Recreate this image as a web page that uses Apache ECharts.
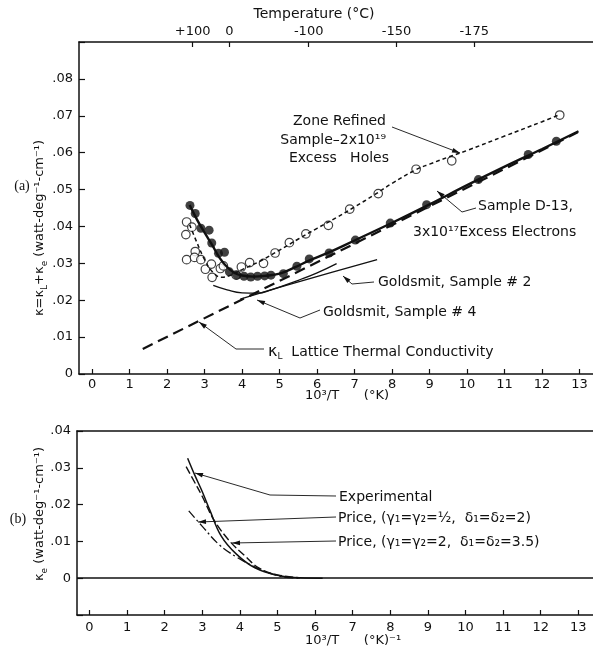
<!DOCTYPE html>
<html>
<head>
<meta charset="utf-8">
<script src="https://cdn.jsdelivr.net/npm/echarts@6/dist/echarts.min.js"></script>
<style>
  html, body { margin: 0; padding: 0; background: #fff; }
  #chart { width: 593px; height: 652px; }
</style>
</head>
<body>
<div id="chart"></div>
<script>
// ---- data ----
// x = 10^3/T (K^-1), y = thermal conductivity (watt/deg/cm)
var xTicks = [0, 1, 2, 3, 4, 5, 6, 7, 8, 9, 10, 11, 12, 13];
var tempLabels = ['+100', '0', '-100', '-150', '-175'];
var tempPositions = [2.680, 3.661, 5.775, 8.120, 10.188]; // 1000/(t+273.15)

// panel (a)
var zoneRefinedPts = [
  [2.52, 0.0412], [2.66, 0.0398], [2.50, 0.0378], [2.52, 0.0310], [2.75, 0.0332],
  [2.73, 0.0316], [2.90, 0.0310], [3.02, 0.0284], [3.18, 0.0298], [3.20, 0.0262],
  [3.42, 0.0286], [3.50, 0.0293], [3.84, 0.0268], [3.98, 0.0290], [4.20, 0.0302],
  [4.57, 0.0300], [4.88, 0.0328], [5.26, 0.0356], [5.70, 0.0380], [6.30, 0.0403],
  [6.87, 0.0447], [7.63, 0.0489], [8.64, 0.0555], [9.59, 0.0578], [12.47, 0.0702]
];
var zoneRefinedCurve = [
  [2.60, 0.0405], [2.80, 0.0355], [3.00, 0.0310], [3.20, 0.0278], [3.45, 0.0262],
  [3.70, 0.0268], [4.00, 0.0283], [4.50, 0.0307], [5.00, 0.0336], [5.50, 0.0366],
  [6.00, 0.0395], [6.50, 0.0423], [7.00, 0.0453], [7.50, 0.0484], [8.00, 0.0517],
  [8.64, 0.0554], [9.00, 0.0569], [9.50, 0.0588], [10.00, 0.0606], [11.00, 0.0645],
  [12.00, 0.0684], [12.46, 0.0703]
];
var d13Pts = [
  [2.61, 0.0457], [2.75, 0.0435], [2.90, 0.0395], [3.12, 0.0390], [3.19, 0.0355],
  [3.37, 0.0327], [3.53, 0.0330], [3.66, 0.0277], [3.86, 0.0268], [4.05, 0.0265],
  [4.23, 0.0263], [4.41, 0.0265], [4.60, 0.0266], [4.77, 0.0268], [5.10, 0.0272],
  [5.46, 0.0292], [5.79, 0.0312], [6.32, 0.0328], [7.02, 0.0363], [7.95, 0.0409],
  [8.92, 0.0459], [10.30, 0.0527], [11.63, 0.0595], [12.38, 0.0631]
];
var d13Curve = [
  [2.60, 0.0458], [2.80, 0.0418], [3.00, 0.0383], [3.20, 0.0350], [3.40, 0.0315],
  [3.60, 0.0290], [3.80, 0.0274], [4.00, 0.0267], [4.30, 0.0264], [4.60, 0.0266],
  [5.00, 0.0272], [5.40, 0.0289], [5.80, 0.0308], [6.30, 0.0329], [7.00, 0.0362],
  [8.00, 0.0410], [9.00, 0.0460], [10.00, 0.0512], [11.00, 0.0562], [12.00, 0.0610],
  [12.97, 0.0658]
];
var latticeLine = [[1.35, 0.0068], [4.00, 0.0202], [8.00, 0.0404], [12.95, 0.0655]];
var goldsmit4 = [
  [3.23, 0.0240], [3.60, 0.0228], [4.00, 0.0220], [4.40, 0.0219], [4.80, 0.0229],
  [5.50, 0.0254], [6.00, 0.0274], [6.52, 0.0299]
];
var goldsmit2 = [[3.95, 0.0203], [5.50, 0.0250], [7.60, 0.0310]];

// panel (b)
var experimental = [
  [2.61, 0.0326], [2.80, 0.0280], [3.00, 0.0235], [3.20, 0.0185], [3.50, 0.0115],
  [3.90, 0.0066], [4.40, 0.0028], [5.00, 0.0008], [5.60, 0.0001], [6.20, 0]
];
var price1 = [
  [2.57, 0.0303], [2.80, 0.0260], [3.00, 0.0222], [3.30, 0.0160], [3.70, 0.0104],
  [4.15, 0.0059], [4.50, 0.0028], [5.00, 0.0009], [5.60, 0.0001]
];
var price2 = [
  [2.64, 0.0183], [3.00, 0.0141], [3.45, 0.0091], [3.90, 0.0058], [4.35, 0.0033],
  [4.70, 0.0017], [5.13, 0.0004], [5.60, 0]
];

var FONT = 'DejaVu Sans';
var ink = '#111';

function yFmtA(v) {
  if (Math.abs(v) < 1e-9) return '0';
  if (v > 0.085) return '';
  return '.0' + Math.round(v * 100);
}
function yFmtB(v) {
  if (Math.abs(v) < 1e-9) return '0';
  if (v < 0) return '';
  return '.0' + Math.round(v * 100);
}

function bottomAxis(grid, min, max, margin) {
  return {
    type: 'value', gridIndex: grid, position: 'bottom', min: min, max: max,
    axisLine: { show: true, onZero: false, lineStyle: { color: ink, width: 1.5 } },
    axisTick: { show: true, inside: true, length: 5, customValues: xTicks, lineStyle: { color: ink, width: 1.2 } },
    axisLabel: { show: true, customValues: xTicks, margin: margin, color: ink, fontFamily: FONT, fontSize: 13 },
    splitLine: { show: false }
  };
}

// leader line with filled arrow head at the last point
function leader(pts) {
  var n = pts.length, a = pts[n - 2], b = pts[n - 1];
  var dx = b[0] - a[0], dy = b[1] - a[1], L = Math.sqrt(dx * dx + dy * dy);
  var ux = dx / L, uy = dy / L, hl = 8, hw = 2.4;
  var base = [b[0] - ux * hl, b[1] - uy * hl];
  return [
    { type: 'polyline', shape: { points: pts }, style: { stroke: ink, lineWidth: 0.9, fill: null } },
    { type: 'polygon', shape: { points: [b, [base[0] - uy * hw, base[1] + ux * hw], [base[0] + uy * hw, base[1] - ux * hw]] }, style: { fill: ink } }
  ];
}
function txt(x, y, s, extra) {
  var o = { type: 'text', x: x, y: y, style: { text: s, fontFamily: FONT, fontSize: 14, fill: ink, verticalAlign: 'middle' } };
  if (extra) for (var k in extra) o.style[k] = extra[k];
  return o;
}
var richSub = {
  t: { fontFamily: FONT, fontSize: 13, fill: ink, lineHeight: 18 },
  s: { fontFamily: FONT, fontSize: 9, fill: ink, lineHeight: 9, verticalAlign: 'bottom' }
};

var graphics = [
  txt(314, 14, 'Temperature (°C)', { align: 'center' }),
  txt(305, 396, '10³/T      (°K)', { fontSize: 13 }),
  txt(305, 641, '10³/T      (°K)⁻¹', { fontSize: 13 }),
  txt(22, 186, '(a)', { align: 'center', fontFamily: 'Liberation Serif' }),
  txt(18, 519, '(b)', { align: 'center', fontFamily: 'Liberation Serif' }),
  { type: 'text', x: 40, y: 228, rotation: Math.PI / 2,
    style: { text: '{t|κ=κ}{s|L}{t|+κ}{s|e}{t| (watt-deg⁻¹-cm⁻¹)}', rich: richSub, align: 'center', verticalAlign: 'middle' } },
  { type: 'text', x: 40, y: 514, rotation: Math.PI / 2,
    style: { text: '{t|κ}{s|e}{t| (watt-deg⁻¹-cm⁻¹)}', rich: richSub, align: 'center', verticalAlign: 'middle' } },
  // panel (a) notes
  txt(386, 121, 'Zone Refined', { align: 'right' }),
  txt(386, 140, 'Sample–2x10¹⁹', { align: 'right' }),
  txt(389, 158, 'Excess   Holes', { align: 'right' }),
  txt(478, 206, 'Sample D-13,'),
  txt(413, 232, '3x10¹⁷Excess Electrons'),
  txt(378, 282, 'Goldsmit, Sample # 2'),
  txt(323, 312, 'Goldsmit, Sample # 4'),
  { type: 'text', x: 268, y: 352,
    style: { text: '{k|κ}{s|L}{t|  Lattice Thermal Conductivity}', verticalAlign: 'middle',
      rich: { k: { fontFamily: FONT, fontSize: 16, fill: ink, lineHeight: 18 },
        t: { fontFamily: FONT, fontSize: 14, fill: ink, lineHeight: 18 }, s: richSub.s } } },
  // panel (b) notes
  txt(339, 497, 'Experimental'),
  txt(338, 518, 'Price, (γ₁=γ₂=½,  δ₁=δ₂=2)'),
  txt(338, 542, 'Price, (γ₁=γ₂=2,  δ₁=δ₂=3.5)')
];
graphics = graphics
  .concat(leader([[392, 127], [460, 153]]))
  .concat(leader([[476, 208], [462, 212], [437, 191]]))
  .concat(leader([[374, 282], [352, 284], [343, 276]]))
  .concat(leader([[320, 310], [300, 318], [257, 300]]))
  .concat(leader([[264, 349], [236, 349], [199, 322]]))
  .concat(leader([[336, 496], [270, 495], [195, 473]]))
  .concat(leader([[336, 517], [198, 522]]))
  .concat(leader([[336, 541], [232, 543]]));

var chart = echarts.init(document.getElementById('chart'));
chart.setOption({
  backgroundColor: '#fff',
  animation: false,
  grid: [
    { left: 79, top: 42, width: 514, height: 332 },
    { left: 77, top: 431, width: 516, height: 184 }
  ],
  xAxis: [
    bottomAxis(0, -0.35, 13.357, 4),
    {
      type: 'value', gridIndex: 0, position: 'top', min: -0.35, max: 13.357,
      axisLine: { show: true, onZero: false, lineStyle: { color: ink, width: 1.5 } },
      axisTick: { show: true, inside: true, length: 5, customValues: tempPositions, lineStyle: { color: ink, width: 1.2 } },
      axisLabel: {
        show: true, customValues: tempPositions, margin: 4, color: ink, fontFamily: FONT, fontSize: 13,
        formatter: function (v) {
          for (var i = 0; i < tempPositions.length; i++) if (Math.abs(tempPositions[i] - v) < 0.01) return tempLabels[i];
          return '';
        }
      },
      splitLine: { show: false }
    },
    bottomAxis(1, -0.332, 13.39, 6),
    {
      type: 'value', gridIndex: 1, position: 'top', min: -0.332, max: 13.39,
      axisLine: { show: true, onZero: false, lineStyle: { color: ink, width: 1.5 } },
      axisTick: { show: false }, axisLabel: { show: false }, splitLine: { show: false }
    }
  ],
  yAxis: [
    {
      type: 'value', gridIndex: 0, min: 0, max: 0.09, interval: 0.01,
      axisLine: { show: true, onZero: false, lineStyle: { color: ink, width: 1.5 } },
      axisTick: { show: true, inside: true, length: 6, lineStyle: { color: ink, width: 1.2 } },
      axisLabel: { formatter: yFmtA, margin: 6, color: ink, fontFamily: FONT, fontSize: 13 },
      splitLine: { show: false }
    },
    {
      type: 'value', gridIndex: 1, min: -0.01, max: 0.04, interval: 0.01,
      axisLine: { show: true, onZero: false, lineStyle: { color: ink, width: 1.5 } },
      axisTick: { show: true, inside: true, length: 6, lineStyle: { color: ink, width: 1.2 } },
      axisLabel: { formatter: yFmtB, margin: 6, color: ink, fontFamily: FONT, fontSize: 13 },
      splitLine: { show: false }
    }
  ],
  series: [
    { name: 'lattice', type: 'line', xAxisIndex: 0, yAxisIndex: 0, data: latticeLine, showSymbol: false,
      lineStyle: { color: ink, width: 2.2, type: [11, 6] } },
    { name: 'D-13', type: 'line', xAxisIndex: 0, yAxisIndex: 0, data: d13Curve, smooth: 0.4, showSymbol: false,
      lineStyle: { color: ink, width: 2.4 } },
    { name: 'zone refined', type: 'line', xAxisIndex: 0, yAxisIndex: 0, data: zoneRefinedCurve, smooth: 0.4, showSymbol: false,
      lineStyle: { color: ink, width: 1.5, type: [4, 3] } },
    { name: 'Goldsmit #4', type: 'line', xAxisIndex: 0, yAxisIndex: 0, data: goldsmit4, smooth: 0.5, showSymbol: false,
      lineStyle: { color: ink, width: 1.3 } },
    { name: 'Goldsmit #2', type: 'line', xAxisIndex: 0, yAxisIndex: 0, data: goldsmit2, smooth: 0.3, showSymbol: false,
      lineStyle: { color: ink, width: 1.3 } },
    { name: 'zone refined pts', type: 'scatter', xAxisIndex: 0, yAxisIndex: 0, data: zoneRefinedPts, symbolSize: 8.5,
      itemStyle: { color: '#fff', borderColor: ink, borderWidth: 1.2 } },
    { name: 'D-13 pts', type: 'scatter', xAxisIndex: 0, yAxisIndex: 0, data: d13Pts, symbolSize: 9,
      itemStyle: { color: ink } },
    { name: 'experimental', type: 'line', xAxisIndex: 2, yAxisIndex: 1, data: experimental, smooth: 0.4, showSymbol: false,
      lineStyle: { color: ink, width: 1.5 },
      markLine: { silent: true, symbol: 'none', label: { show: false }, data: [{ yAxis: 0 }],
        lineStyle: { color: ink, width: 1.6, type: 'solid' } } },
    { name: 'price 1', type: 'line', xAxisIndex: 2, yAxisIndex: 1, data: price1, smooth: 0.4, showSymbol: false,
      lineStyle: { color: ink, width: 1.4, type: [8, 3] } },
    { name: 'price 2', type: 'line', xAxisIndex: 2, yAxisIndex: 1, data: price2, smooth: 0.4, showSymbol: false,
      lineStyle: { color: ink, width: 1.3, type: [9, 3, 2, 3] } }
  ],
  graphic: graphics
});
</script>
</body>
</html>
